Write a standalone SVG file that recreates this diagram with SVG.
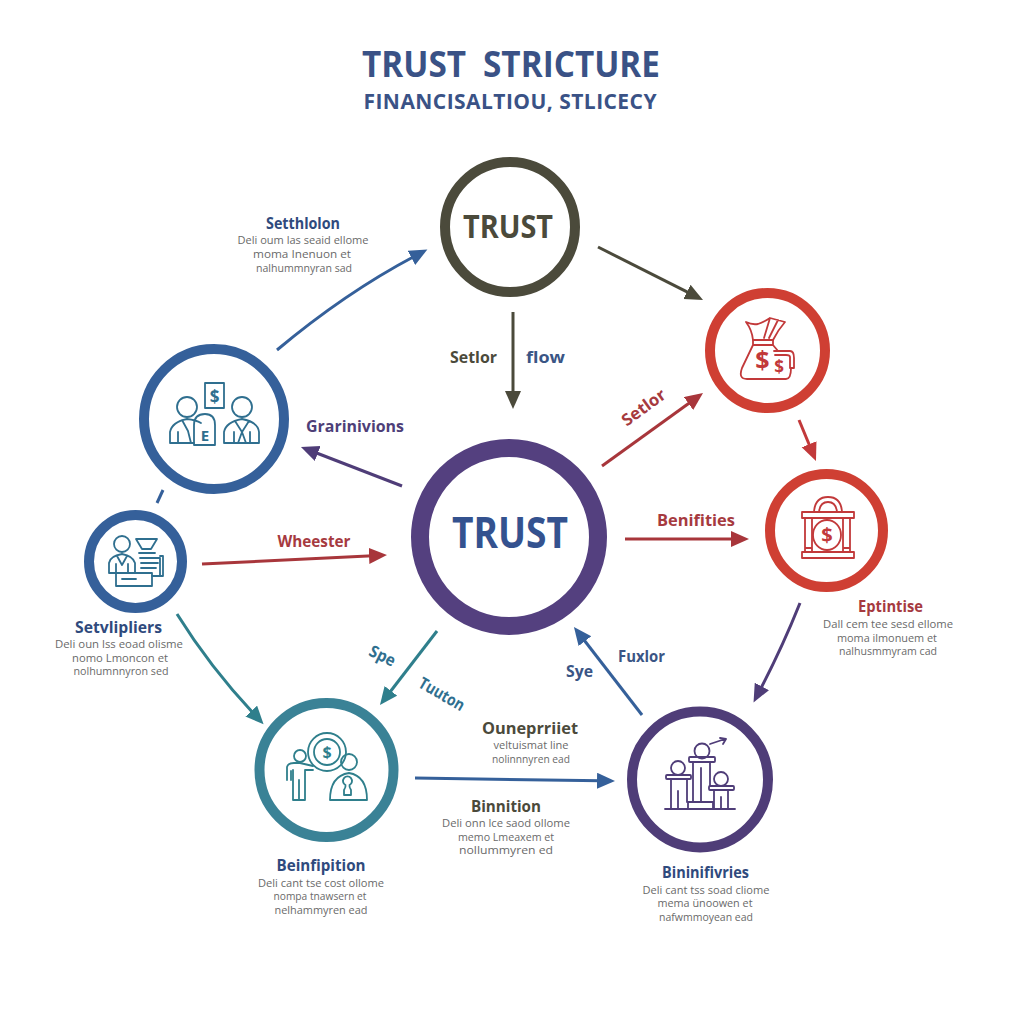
<svg xmlns="http://www.w3.org/2000/svg" width="1024" height="1024" viewBox="0 0 1024 1024">
<style>
text{font-family:"Open Sans","Liberation Sans",sans-serif;text-anchor:middle}
.h{font-weight:700;font-size:16.500px}
.b{font-size:11.500px;fill:#6a6a6a}
.ring{fill:#fff;stroke-width:10}
.ic{fill:none;stroke-width:1.800;stroke-linejoin:round;stroke-linecap:round}
.c{fill:none;stroke-width:3}
.navy{fill:#2f4a7d}.dred{fill:#a63a3f}.ol{fill:#4b4a3b}.pu{fill:#4e3f78}.sb{fill:#3a5585}.tl{fill:#2f6f8f}
</style>
<defs>
<marker id="aBlue" markerUnits="userSpaceOnUse" markerWidth="20" markerHeight="18" refX="4" refY="8" orient="auto"><path d="M0 0L18 8L0 16Z" fill="#35609a"/></marker>
<marker id="aOl" markerUnits="userSpaceOnUse" markerWidth="20" markerHeight="18" refX="4" refY="8" orient="auto"><path d="M0 0L18 8L0 16Z" fill="#4b4a3b"/></marker>
<marker id="aRed" markerUnits="userSpaceOnUse" markerWidth="20" markerHeight="18" refX="4" refY="8" orient="auto"><path d="M0 0L18 8L0 16Z" fill="#a8363b"/></marker>
<marker id="aOr" markerUnits="userSpaceOnUse" markerWidth="20" markerHeight="18" refX="4" refY="8" orient="auto"><path d="M0 0L18 8L0 16Z" fill="#c2393a"/></marker>
<marker id="aPu" markerUnits="userSpaceOnUse" markerWidth="20" markerHeight="18" refX="4" refY="8" orient="auto"><path d="M0 0L18 8L0 16Z" fill="#4f3d78"/></marker>
<marker id="aTe" markerUnits="userSpaceOnUse" markerWidth="20" markerHeight="18" refX="4" refY="8" orient="auto"><path d="M0 0L18 8L0 16Z" fill="#2f7f8c"/></marker>
</defs>
<rect width="1024" height="1024" fill="#fff"/>

<g id="title">
<text x="414" y="77" font-size="36" font-weight="700" fill="#3a5286" textLength="104" lengthAdjust="spacingAndGlyphs">TRUST</text>
<text x="571.500" y="77" font-size="36" font-weight="700" fill="#3a5286" textLength="177" lengthAdjust="spacingAndGlyphs">STRICTURE</text>
<text x="510" y="109" font-size="21" font-weight="700" fill="#3a5286" textLength="293" lengthAdjust="spacing">FINANCISALTIOU, STLICECY</text>
</g>

<g id="connectors">
<path class="c" stroke="#35609a" d="M277 350Q345 293 415 256" marker-end="url(#aBlue)"/>
<path class="c" stroke="#4b4a3b" d="M598 247L690.500 293.700" marker-end="url(#aOl)"/>
<path class="c" stroke="#4b4a3b" d="M513 312V395" marker-end="url(#aOl)"/>
<path class="c" stroke="#a8363b" d="M602 466L691.700 401.200" marker-end="url(#aRed)"/>
<path class="c" stroke="#4f3d78" d="M402 486L314 452" marker-end="url(#aPu)"/>
<path class="c" stroke="#a8363b" d="M202 564L373 555.700" marker-end="url(#aRed)"/>
<path class="c" stroke="#a8363b" d="M625 539H735" marker-end="url(#aRed)"/>
<path class="c" stroke="#c2393a" d="M799 420L810.600 448" marker-end="url(#aOr)"/>
<path class="c" stroke="#4f3d78" d="M800 603Q782 648 760 690" marker-end="url(#aPu)"/>
<path class="c" stroke="#35609a" d="M157 503L163 490"/>
<path class="c" stroke="#2f7f8c" d="M177 614Q210 667 254 714" marker-end="url(#aTe)"/>
<path class="c" stroke="#2f7f8c" d="M437 631L388.500 694" marker-end="url(#aTe)"/>
<path class="c" stroke="#35609a" d="M642 715L582.500 638" marker-end="url(#aBlue)"/>
<path class="c" stroke="#35609a" d="M415 778L601 780.800" marker-end="url(#aBlue)"/>
</g>

<g id="connector-labels">
<text class="h pu" x="355" y="432" textLength="98" lengthAdjust="spacingAndGlyphs">Grarinivions</text>
<text class="h dred" x="314" y="547" textLength="73" lengthAdjust="spacingAndGlyphs">Wheester</text>
<text class="h dred" x="696" y="526" textLength="78" lengthAdjust="spacingAndGlyphs">Benifities</text>
<text class="h ol" x="473.500" y="363" textLength="47" lengthAdjust="spacingAndGlyphs">Setlor</text>
<text class="h sb" x="545.500" y="363" textLength="39" lengthAdjust="spacingAndGlyphs">flow</text>
<text class="h dred" transform="translate(647 412) rotate(-36)" textLength="50" lengthAdjust="spacingAndGlyphs">Setlor</text>
<text class="h tl" transform="translate(380 661) rotate(26)" textLength="27" lengthAdjust="spacingAndGlyphs">Spe</text>
<text class="h tl" transform="translate(439 699) rotate(30)" textLength="50" lengthAdjust="spacingAndGlyphs">Tuuton</text>
<text class="h sb" x="579.500" y="677" textLength="27" lengthAdjust="spacingAndGlyphs">Sye</text>
<text class="h sb" x="641.500" y="662" textLength="47" lengthAdjust="spacingAndGlyphs">Fuxlor</text>
<text class="h ol" x="530" y="734" textLength="96" lengthAdjust="spacingAndGlyphs">Ouneprriiet</text>
<text class="b" x="531" y="749" textLength="75" lengthAdjust="spacingAndGlyphs">veltuismat line</text>
<text class="b" x="531" y="763" textLength="78" lengthAdjust="spacingAndGlyphs">nolinnnyren ead</text>
<text class="h ol" x="506" y="812" textLength="70" lengthAdjust="spacingAndGlyphs">Binnition</text>
<text class="b" x="506" y="827" textLength="128" lengthAdjust="spacingAndGlyphs">Deli onn lce saod ollome</text>
<text class="b" x="506" y="841" textLength="96" lengthAdjust="spacingAndGlyphs">memo Lmeaxem et</text>
<text class="b" x="506" y="854" textLength="94" lengthAdjust="spacingAndGlyphs">nollummyren ed</text>
</g>

<g id="node-trust-top">
<circle class="ring" cx="510" cy="227" r="65" stroke="#4b4a3b"/>
<text x="508" y="238" font-size="32" font-weight="700" fill="#4b4a3b" textLength="90" lengthAdjust="spacingAndGlyphs">TRUST</text>
</g>

<g id="node-trust-center">
<circle class="ring" cx="509" cy="537" r="89" stroke="#54407f" style="stroke-width:18"/>
<text x="510" y="548" font-size="43" font-weight="700" fill="#34528f" textLength="116" lengthAdjust="spacingAndGlyphs">TRUST</text>
</g>

<g id="node-settlor">
<text class="h navy" x="303" y="229" textLength="74" lengthAdjust="spacingAndGlyphs">Setthlolon</text>
<text class="b" x="303" y="244" textLength="131" lengthAdjust="spacingAndGlyphs">Deli oum las seaid ellome</text>
<text class="b" x="302" y="258" textLength="98" lengthAdjust="spacingAndGlyphs">moma Inenuon et</text>
<text class="b" x="304" y="272" textLength="96" lengthAdjust="spacingAndGlyphs">nalhummnyran sad</text>
<circle class="ring" cx="214" cy="419" r="70" stroke="#35609a"/>
<g class="ic" stroke="#2f6f8f">
<rect x="205" y="383" width="19" height="25"/>
<circle cx="187" cy="407" r="10"/><circle cx="242" cy="407" r="10"/>
<path d="M170 443V432Q172 422 187 419Q196 420 201 423M170 443H194M182 420L188 431L191 443M178 432V443"/>
<path d="M224 443V432Q226 422 242 419Q258 422 259 432V443ZM235 421L242 432L249 421M234 432V443M250 432V443M242 432L238 443M242 432L246 443"/>
<path d="M194 445V425Q194 414 205 414Q215 414 215 425V445Z"/>
</g>
<text x="214.500" y="403" font-size="17" font-weight="700" fill="#2f6f8f">$</text>
<text x="205" y="441" font-size="15" font-weight="700" fill="#2f6f8f">E</text>
</g>

<g id="node-setvlipliers">
<circle class="ring" cx="135.500" cy="561.500" r="46.500" stroke="#35609a"/>
<g class="ic" stroke="#2f6f8f">
<circle cx="122" cy="544" r="8"/>
<path d="M109 573V563Q110 556 122 554Q133 556 135 563V573ZM117 556L122 565L127 556M116 564V573M128 564V573"/>
<path d="M136 539H157L151 549H142ZM139 553H155M140 558H160V575M141 563H158M141 568H156M160 556H163V576H152"/>
<rect x="116" y="573" width="36" height="13"/>
<path d="M122 579H136"/>
</g>
<text class="h navy" x="118.500" y="633" textLength="87" lengthAdjust="spacingAndGlyphs">Setvlipliers</text>
<text class="b" x="119" y="648" textLength="128" lengthAdjust="spacingAndGlyphs">Deli oun lss eoad olisme</text>
<text class="b" x="120" y="662" textLength="96" lengthAdjust="spacingAndGlyphs">nomo Lmoncon et</text>
<text class="b" x="121" y="675" textLength="95" lengthAdjust="spacingAndGlyphs">nolhumnnyron sed</text>
</g>

<g id="node-moneybag">
<circle class="ring" cx="767.500" cy="350.500" r="57.500" stroke="#cf3f33"/>
<g class="ic" stroke="#c2393a">
<path d="M746 322Q752 325 758 324Q764 322 770 318L785 322Q778 330 773 340H753Q752 330 746 322ZM770 318L764 338M778 320L769 338"/>
<path d="M753 340H773V345H753ZM753 345L742 368Q738 379 747 379H786Q791 379 791 368M773 345L778 351"/>
<path d="M774 351H790Q794 351 794 358V368H790V357Q790 355 786 355H775"/>
</g>
<text x="762.500" y="369" font-size="25" font-weight="700" fill="#c2393a">$</text>
<text x="779" y="373" font-size="17" font-weight="700" fill="#c2393a">$</text>
</g>

<g id="node-eptintise">
<circle class="ring" cx="826.500" cy="530.500" r="56.500" stroke="#cf3f33"/>
<g class="ic" stroke="#c2393a">
<path d="M814 512Q815 497 828 497Q841 497 842 512M819 512Q820 502 828 502Q836 502 837 512"/>
<rect x="802" y="512" width="52" height="6"/>
<rect x="802" y="552" width="52" height="6"/>
<path d="M805 518V552M812 518V552M843 518V552M850 518V552M805 548H812M843 548H850"/>
<ellipse cx="827" cy="535" rx="14" ry="15"/>
</g>
<text x="827" y="542" font-size="20" font-weight="700" fill="#c2393a">$</text>
<text class="h dred" x="890.500" y="612" textLength="65" lengthAdjust="spacingAndGlyphs">Eptintise</text>
<text class="b" x="888" y="628" textLength="130" lengthAdjust="spacingAndGlyphs">Dall cem tee sesd ellome</text>
<text class="b" x="887" y="642" textLength="100" lengthAdjust="spacingAndGlyphs">moma ilmonuem et</text>
<text class="b" x="888" y="655" textLength="98" lengthAdjust="spacingAndGlyphs">nalhusmmyram cad</text>
</g>

<g id="node-beinfipition">
<circle class="ring" cx="326.500" cy="770" r="67" stroke="#3a8296"/>
<g class="ic" stroke="#2f7f8c">
<circle cx="327" cy="752" r="19"/><circle cx="327" cy="752" r="13"/>
<circle cx="300" cy="756" r="6"/>
<path d="M294 763H300L313 766M287 780V767Q288 763 294 763M291 780V771M293 770V800H305V770L313 770M299 780V800"/>
<circle cx="349" cy="762" r="8"/>
<path d="M330 800Q330 776 349 773Q367 776 367 800Z"/>
<path d="M344 795H351V790Q349 787 349.500 785A4.500 4.500 0 1 0 345.500 785Q346 787 344 790Z"/>
</g>
<text x="327" y="758" font-size="16" font-weight="700" fill="#2f7f8c">$</text>
<text class="h navy" x="321" y="871" textLength="89" lengthAdjust="spacingAndGlyphs">Beinfipition</text>
<text class="b" x="321" y="887" textLength="126" lengthAdjust="spacingAndGlyphs">Deli cant tse cost ollome</text>
<text class="b" x="320" y="900" textLength="93" lengthAdjust="spacingAndGlyphs">nompa tnawsern et</text>
<text class="b" x="321" y="914" textLength="93" lengthAdjust="spacingAndGlyphs">nelhammyren ead</text>
</g>

<g id="node-bininifivries">
<circle class="ring" cx="700" cy="779.500" r="68" stroke="#4f3d78"/>
<g class="ic" stroke="#4f3d78">
<path d="M665 809H735"/>
<circle cx="678" cy="768" r="7"/><circle cx="702" cy="751" r="7.500"/><circle cx="721" cy="779" r="7"/>
<rect x="666" y="775" width="25" height="4" rx="1"/>
<rect x="689" y="757" width="26" height="5" rx="1"/>
<rect x="709" y="786" width="25" height="4" rx="1"/>
<path d="M671 779V809M687 779V802M693 762V802M710 762V786M714 790V809M728 790V809M678 791V809M701 768V802M721 797V809"/>
<rect x="688" y="802" width="25" height="7"/>
<path d="M710 744L725 739M720 738L726 739L723 744"/>
</g>
<text class="h navy" x="705.500" y="878" textLength="87" lengthAdjust="spacingAndGlyphs">Bininifivries</text>
<text class="b" x="706" y="894" textLength="127" lengthAdjust="spacingAndGlyphs">Deli cant tss soad cliome</text>
<text class="b" x="705" y="907" textLength="95" lengthAdjust="spacingAndGlyphs">mema ünoowen et</text>
<text class="b" x="706" y="921" textLength="94" lengthAdjust="spacingAndGlyphs">nafwmmoyean ead</text>
</g>
</svg>
